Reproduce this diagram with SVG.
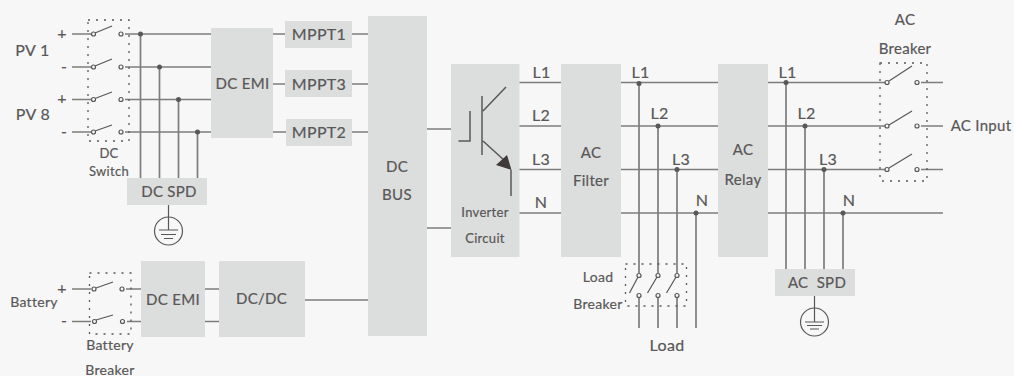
<svg xmlns="http://www.w3.org/2000/svg" width="1014" height="376" viewBox="0 0 1014 376">
<style>
text{font-family:Lato,"Open Sans","Liberation Sans",sans-serif;font-size:15px;fill:#595757;stroke:#595757;stroke-width:.2;text-anchor:middle;letter-spacing:.3px}
.m{font-size:16px}
.s{font-size:14px}
.x{font-size:13px}
.b{fill:#dcdddd}
.l{fill:none;stroke:#7d7d7d;stroke-width:1.7}
.t{fill:none;stroke:#595757;stroke-width:1.2}
.d{fill:none;stroke:#595757;stroke-width:1.3;stroke-dasharray:2 6}
.c{fill:#f7f7f7;stroke:#595757;stroke-width:1.2}
.j{fill:#595757}
</style>
<rect width="1014" height="376" fill="#f7f7f7"/>
<g id="connectors">
<path class="l" d="M72 34H92M125 34H211M72 67H92M125 67H211M72 99.500H92M125 99.500H211M72 132H92M125 132H211M140.500 34V178M159.500 67V178M178.500 99.500V178M197.500 132V178"/>
<path class="l" d="M273 34H285M273 84H285M273 132H286M352 34H368M352 84H368M352 132H368M427 129H451M427 228H451"/>
<path class="l" d="M72 289H91M126 289H141M72 321.500H91M127 321.500H141M205 289H219M205 321.500H219M305 300H368"/>
<path class="l" d="M519 82.500H561M519 126H561M519 169.500H561M519 213H561M621 82.500H718M621 126H718M621 169.500H718M621 213H718M768 82.500H885M768 126H885M768 169.500H885M768 213H943M921 82.500H943M921 126H943M921 169.500H943"/>
<path class="l" d="M639 83V273M639 298V328M658 126V273M658 298V328M677 169.500V273M677 298V328M696 213V328M786 83V269M805 126V269M824 169.500V269M843 213V269"/>
<path class="t" d="M168.500 205V230M814.500 296V322"/>
</g>
<g id="junctions" class="j">
<circle cx="140.500" cy="34" r="2.500"/><circle cx="159.500" cy="67" r="2.500"/><circle cx="178.500" cy="99.500" r="2.500"/><circle cx="197.500" cy="132" r="2.500"/>
<circle cx="639" cy="83.500" r="2.500"/><circle cx="658" cy="126" r="2.500"/><circle cx="677" cy="169.500" r="2.500"/><circle cx="696" cy="213" r="2.500"/>
<circle cx="786" cy="82.500" r="2.500"/><circle cx="805" cy="126" r="2.500"/><circle cx="824" cy="169.500" r="2.500"/><circle cx="843" cy="213" r="2.500"/>
</g>
<g id="pv-labels">
<text class="m" x="32.500" y="56">PV 1</text><text class="m" x="33" y="120">PV 8</text>
<text class="m" x="62" y="39">+</text><text class="m" x="64" y="72">-</text><text class="m" x="62" y="104">+</text><text class="m" x="64" y="137">-</text>
</g>
<g id="dc-switch">
<rect class="d" x="88" y="20" width="41" height="121"/>
<path class="t" d="M95 33L112 26M95 66L112 59M95 98.500L112 92M95 131L112 125"/>
<circle class="c" cx="93.500" cy="34" r="2"/><circle class="c" cx="121" cy="34" r="2"/>
<circle class="c" cx="93.500" cy="67" r="2"/><circle class="c" cx="121" cy="67" r="2"/>
<circle class="c" cx="93.500" cy="99.500" r="2"/><circle class="c" cx="121" cy="99.500" r="2"/>
<circle class="c" cx="93.500" cy="132" r="2"/><circle class="c" cx="121" cy="132" r="2"/>
<text class="x" x="109" y="158">DC</text><text class="x" x="109" y="176">Switch</text>
</g>
<g id="dc-emi-1"><rect class="b" x="211" y="28" width="62" height="110"/><text x="242.500" y="89">DC EMI</text></g>
<g id="mppt1"><rect class="b" x="285" y="21" width="67" height="27"/><text class="m" x="319" y="40">MPPT1</text></g>
<g id="mppt3"><rect class="b" x="285" y="70" width="67" height="27"/><text class="m" x="319" y="90">MPPT3</text></g>
<g id="mppt2"><rect class="b" x="286" y="119" width="66" height="27"/><text class="m" x="319" y="138">MPPT2</text></g>
<g id="dc-spd"><rect class="b" x="127" y="178" width="80" height="27"/><text x="169" y="197">DC SPD</text></g>
<g id="ground-dc">
<circle cx="168.500" cy="231" r="14" fill="none" stroke="#595757" stroke-width="1.2"/>
<path class="t" d="M159 230H178M161 234.500H176M164 238.500H173"/>
</g>
<g id="battery-breaker">
<text class="s" x="34" y="307">Battery</text>
<text class="m" x="62" y="294">+</text><text class="m" x="64" y="326">-</text>
<rect class="d" x="89.500" y="273" width="41.500" height="61"/>
<path class="t" d="M96 288L113 282M96 320L113 315"/>
<circle class="c" cx="94" cy="289" r="2"/><circle class="c" cx="122" cy="289" r="2"/>
<circle class="c" cx="94.500" cy="321.500" r="2"/><circle class="c" cx="122.500" cy="321.500" r="2"/>
<text class="s" x="110" y="350">Battery</text><text class="s" x="110" y="375">Breaker</text>
</g>
<g id="dc-emi-2"><rect class="b" x="141" y="261" width="64" height="76"/><text x="173" y="305">DC EMI</text></g>
<g id="dc-dc"><rect class="b" x="219" y="261" width="86" height="76"/><text x="261.500" y="304">DC/DC</text></g>
<g id="dc-bus"><rect class="b" x="368" y="16" width="59" height="320"/><text x="397" y="172">DC</text><text x="397" y="200">BUS</text></g>
<g id="inverter">
<rect class="b" x="451" y="64" width="68.500" height="193"/>
<path fill="none" stroke="#595757" stroke-width="1.500" d="M482 96V155M483 111L506 87M470 111V141H458.500M483 141L505 161M511 170V196"/>
<path fill="#3e3a39" d="M507 155L511.500 170L496 165Z"/>
<text class="x" x="485" y="217">Inverter</text><text class="x" x="485" y="243">Circuit</text>
</g>
<g id="phase-labels-1">
<text class="m" x="541.500" y="78">L1</text><text class="m" x="541" y="121">L2</text><text class="m" x="541" y="165">L3</text><text class="m" x="541" y="208">N</text>
</g>
<g id="ac-filter"><rect class="b" x="561" y="64" width="60" height="193"/><text x="591" y="158">AC</text><text x="591" y="186">Filter</text></g>
<g id="phase-labels-2">
<text class="m" x="640.500" y="78">L1</text><text class="m" x="659.500" y="119">L2</text><text class="m" x="681" y="165">L3</text><text class="m" x="702" y="206">N</text>
</g>
<g id="ac-relay"><rect class="b" x="718" y="64" width="50" height="193"/><text x="743" y="155">AC</text><text x="743" y="185">Relay</text></g>
<g id="phase-labels-3">
<text class="m" x="787.500" y="78">L1</text><text class="m" x="806.500" y="119">L2</text><text class="m" x="828" y="165">L3</text><text class="m" x="849" y="206">N</text>
</g>
<g id="load-breaker">
<rect class="d" x="625.500" y="264" width="61" height="42"/>
<path class="t" d="M629.500 293L638 277M647.500 293L657 277M666.500 293L676 277"/>
<circle class="c" cx="639" cy="275.500" r="2"/><circle class="c" cx="658" cy="275.500" r="2"/><circle class="c" cx="677" cy="275.500" r="2"/>
<circle class="c" cx="639" cy="295.500" r="2"/><circle class="c" cx="658" cy="295.500" r="2"/><circle class="c" cx="677" cy="295.500" r="2"/>
<text class="s" x="598" y="282">Load</text><text class="s" x="598" y="309">Breaker</text>
<text class="m" x="667" y="351">Load</text>
</g>
<g id="ac-spd"><rect class="b" x="775" y="269" width="80" height="27"/><text x="817" y="288" xml:space="preserve">AC  SPD</text></g>
<g id="ground-ac">
<circle cx="814.500" cy="322" r="14" fill="none" stroke="#595757" stroke-width="1.200"/>
<path class="t" d="M805 322H824M807 325.500H822M810 329H819"/>
</g>
<g id="ac-breaker">
<rect class="d" x="880" y="63" width="47" height="118"/>
<path class="t" d="M889 81L912 66M889 125L912 111M889 168L912 154"/>
<circle class="c" cx="887" cy="82.500" r="2"/><circle class="c" cx="917" cy="82.500" r="2"/>
<circle class="c" cx="887" cy="126" r="2"/><circle class="c" cx="917" cy="126" r="2"/>
<circle class="c" cx="887" cy="169.500" r="2"/><circle class="c" cx="917" cy="169.500" r="2"/>
<text x="905" y="25">AC</text><text x="905" y="54">Breaker</text>
<text x="981" y="131">AC Input</text>
</g>
</svg>
